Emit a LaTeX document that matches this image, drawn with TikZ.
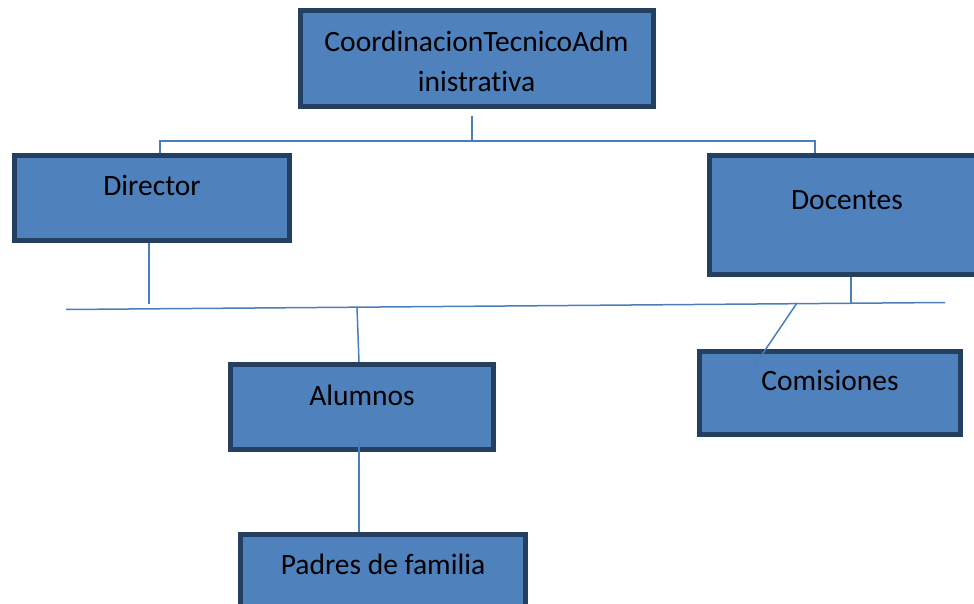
\documentclass[tikz,border=0pt]{standalone}
\usepackage{fontspec}
\setmainfont{Carlito}[Ligatures=NoCommon]
\usetikzlibrary{calc}
\definecolor{boxfill}{HTML}{4F81BD}
\definecolor{boxedge}{HTML}{243F60}
\definecolor{wirecol}{HTML}{4A7EBB}
\begin{document}
\begin{tikzpicture}[x=1pt,y=-1pt,
  orgbox/.style 2 args={draw=boxedge, fill=boxfill, line width=5pt, inner sep=0pt,
    minimum width=#1, minimum height=#2},
  lbl/.style={anchor=base, inner sep=0pt, font=\fontsize{29.5}{35}\selectfont, text=black},
  wire/.style={draw=wirecol, line width=1.5pt}]
\useasboundingbox (0,0) rectangle (974,604);

% boxes
\node[orgbox={353pt}{96pt}] (top) at (477,58.5) {};
\node[orgbox={275pt}{85pt}] (dir) at (152,198) {};
\node[orgbox={275pt}{119pt}] (doc) at (847,215) {};
\node[orgbox={261pt}{83pt}] (com) at (830,393) {};
\node[orgbox={263pt}{85pt}] (alu) at (362,407) {};
\node[orgbox={285pt}{85pt}] (pad) at (383,577) {};

% texts
\node[lbl] (topt1) at ($(top.north)+(-0.5,43.5)$) {CoordinacionTecnicoAdm};
\node[lbl] (topt2) at ($(top.north)+(-0.5,83.5)$) {inistrativa};
\node[lbl] (dirt) at ($(dir.north)+(0,42.5)$) {Director};
\node[lbl] (doct) at ($(doc.north)+(0,56.5)$) {Docentes};
\node[lbl] (comt) at ($(com.north)+(0,41.5)$) {Comisiones};
\node[lbl] (alut) at ($(alu.north)+(0,43.5)$) {Alumnos};
\node[lbl] (padt) at ($(pad.north)+(0,42.5)$) {Padres de familia};

% junction coordinates
\coordinate (j1) at (472,141);
\coordinate (jl) at (160,141);
\coordinate (jr) at (815,141);
\coordinate (d1) at (149,304);
\coordinate (busL) at (66,309.5);
\coordinate (busR) at (945,302.5);
\coordinate (a1) at (357,307.5);
\coordinate (a1b) at (359,307.5);
\coordinate (a2) at (359,438);
\coordinate (b1) at (851,302.5);
\coordinate (b2) at (797,303);
\coordinate (b3) at (755,365);

% connectors
\draw[wire] (j1 |- top.south) ++(0,7) -- (j1);
\draw[wire] (jl |- dir.north) -- (jl) -- (jr) -- (jr |- doc.north);
\draw[wire] (d1 |- dir.south) -- (d1);
\draw[wire] (busL) -- (busR);
\draw[wire] (a1) -- (a1b |- alu.north);
\draw[wire] (a2) -- (a2 |- pad.north);
\draw[wire] (b1 |- doc.south) -- (b1);
\draw[wire] (b2) -- (b3);
\end{tikzpicture}
\end{document}
